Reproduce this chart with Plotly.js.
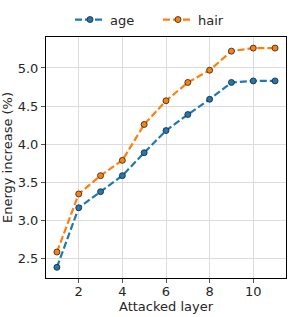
<!DOCTYPE html>
<html>
<head>
<meta charset="utf-8">
<script src="https://cdn.plot.ly/plotly-3.0.1.min.js"></script>
<style>html,body{margin:0;padding:0;background:#fff;}#chart{width:291px;height:317px;}</style>
</head>
<body>
<div id="chart"></div>
<script>
const layers = [1, 2, 3, 4, 5, 6, 7, 8, 9, 10, 11];
const ageValues = [2.39, 3.17, 3.38, 3.59, 3.89, 4.18, 4.39, 4.59, 4.81, 4.83, 4.83];
const hairValues = [2.59, 3.35, 3.59, 3.79, 4.26, 4.57, 4.81, 4.97, 5.22, 5.26, 5.26];
const xTicks = [2, 4, 6, 8, 10];
const yTicks = [2.5, 3.0, 3.5, 4.0, 4.5, 5.0];

function series(name, y, color) {
  return {
    x: layers, y: y, name: name, type: 'scatter', mode: 'lines+markers',
    line: {color: color, width: 2.2, dash: '7px,3px'},
    marker: {color: color, size: 6, line: {color: '#222', width: 0.8}}
  };
}
const data = [series('age', ageValues, '#1f77b4'), series('hair', hairValues, '#ff7f0e')];
const font = {family: 'DejaVu Sans', size: 13, color: '#262626'};
const layout = {
  width: 291, height: 317,
  margin: {l: 46, r: 5, t: 32, b: 39, pad: 0},
  paper_bgcolor: '#fff', plot_bgcolor: '#fff',
  font: font,
  showlegend: true,
  legend: {orientation: 'h', x: 0.1, xanchor: 'left', y: 1.01, yanchor: 'bottom',
           bgcolor: 'rgba(0,0,0,0)', entrywidth: 43, entrywidthmode: 'pixels',
           font: {family: 'DejaVu Sans', size: 13, color: '#262626'}, itemwidth: 30, tracegroupgap: 0},
  xaxis: {
    range: [0.5, 11.5], tickvals: xTicks, ticktext: xTicks.map(String),
    showgrid: true, gridcolor: '#dcdcdc', gridwidth: 1,
    showline: true, linecolor: '#000', linewidth: 1, mirror: true,
    ticks: 'outside', ticklen: 4, tickcolor: '#555', zeroline: false,
    ticklabelstandoff: -3,
    tickfont: {family: 'DejaVu Sans', size: 13, color: '#262626'},
    title: {text: 'Attacked layer', font: {family: 'DejaVu Sans', size: 13, color: '#262626'}, standoff: 0}
  },
  yaxis: {
    range: [2.25, 5.405], tickvals: yTicks, ticktext: yTicks.map(v => v.toFixed(1)),
    showgrid: true, gridcolor: '#dcdcdc', gridwidth: 1,
    showline: true, linecolor: '#000', linewidth: 1, mirror: true,
    ticks: 'outside', ticklen: 4, tickcolor: '#555', zeroline: false,
    tickfont: {family: 'DejaVu Sans', size: 13, color: '#262626'},
    title: {text: 'Energy increase (%)', font: {family: 'DejaVu Sans', size: 13, color: '#262626'}, standoff: 4}
  }
};
Plotly.newPlot('chart', data, layout, {displayModeBar: false, staticPlot: true});
</script>
</body>
</html>
